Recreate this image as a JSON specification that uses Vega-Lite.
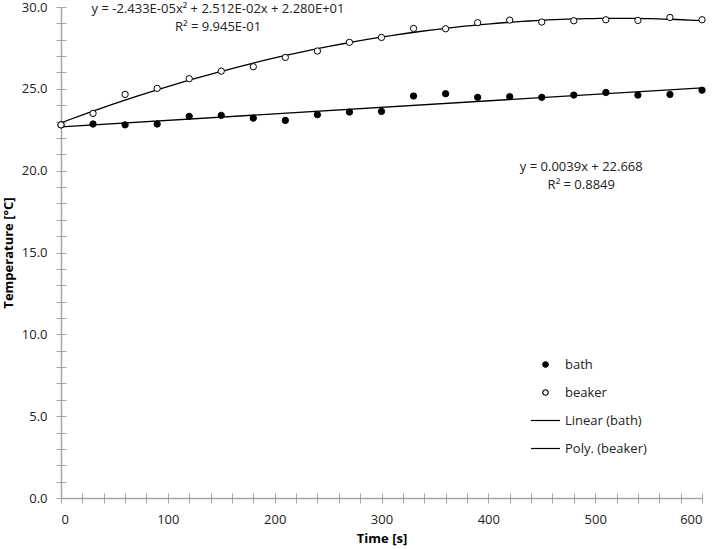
{
  "$schema": "https://vega.github.io/schema/vega-lite/v6.json",
  "autosize": {"type": "none"},
  "padding": {"left": 61, "top": 7, "right": 12, "bottom": 51},
  "width": 641,
  "height": 491,
  "config": {
    "font": "Open Sans",
    "view": {"stroke": null},
    "axis": {
      "grid": false,
      "domainColor": "#a6a6a6",
      "tickColor": "#a6a6a6",
      "domainWidth": 1.5,
      "tickWidth": 1,
      "tickSize": 5,
      "labelFont": "Open Sans",
      "labelFontSize": 13,
      "labelColor": "#222222",
      "titleFont": "Open Sans",
      "titleFontSize": 13,
      "titleFontWeight": "bold",
      "titleColor": "#000000"
    }
  },
  "datasets": {
    "temps": [
      {"time": 0, "temp": 22.80, "series": "bath"},
      {"time": 30, "temp": 22.85, "series": "bath"},
      {"time": 60, "temp": 22.80, "series": "bath"},
      {"time": 90, "temp": 22.85, "series": "bath"},
      {"time": 120, "temp": 23.32, "series": "bath"},
      {"time": 150, "temp": 23.38, "series": "bath"},
      {"time": 180, "temp": 23.21, "series": "bath"},
      {"time": 210, "temp": 23.07, "series": "bath"},
      {"time": 240, "temp": 23.42, "series": "bath"},
      {"time": 270, "temp": 23.58, "series": "bath"},
      {"time": 300, "temp": 23.62, "series": "bath"},
      {"time": 330, "temp": 24.56, "series": "bath"},
      {"time": 360, "temp": 24.70, "series": "bath"},
      {"time": 390, "temp": 24.48, "series": "bath"},
      {"time": 420, "temp": 24.52, "series": "bath"},
      {"time": 450, "temp": 24.48, "series": "bath"},
      {"time": 480, "temp": 24.62, "series": "bath"},
      {"time": 510, "temp": 24.78, "series": "bath"},
      {"time": 540, "temp": 24.62, "series": "bath"},
      {"time": 570, "temp": 24.66, "series": "bath"},
      {"time": 600, "temp": 24.92, "series": "bath"},
      {"time": 0, "temp": 22.80, "series": "beaker"},
      {"time": 30, "temp": 23.50, "series": "beaker"},
      {"time": 60, "temp": 24.66, "series": "beaker"},
      {"time": 90, "temp": 25.03, "series": "beaker"},
      {"time": 120, "temp": 25.62, "series": "beaker"},
      {"time": 150, "temp": 26.08, "series": "beaker"},
      {"time": 180, "temp": 26.35, "series": "beaker"},
      {"time": 210, "temp": 26.92, "series": "beaker"},
      {"time": 240, "temp": 27.31, "series": "beaker"},
      {"time": 270, "temp": 27.84, "series": "beaker"},
      {"time": 300, "temp": 28.14, "series": "beaker"},
      {"time": 330, "temp": 28.69, "series": "beaker"},
      {"time": 360, "temp": 28.67, "series": "beaker"},
      {"time": 390, "temp": 29.04, "series": "beaker"},
      {"time": 420, "temp": 29.20, "series": "beaker"},
      {"time": 450, "temp": 29.08, "series": "beaker"},
      {"time": 480, "temp": 29.16, "series": "beaker"},
      {"time": 510, "temp": 29.22, "series": "beaker"},
      {"time": 540, "temp": 29.18, "series": "beaker"},
      {"time": 570, "temp": 29.36, "series": "beaker"},
      {"time": 600, "temp": 29.22, "series": "beaker"}
    ],
    "notes": [
      {"tx": 147, "ty": 29.9, "label": "y = -2.433E-05x² + 2.512E-02x + 2.280E+01"},
      {"tx": 147, "ty": 28.8, "label": "R² = 9.945E-01"},
      {"tx": 487, "ty": 20.22, "label": "y = 0.0039x + 22.668"},
      {"tx": 487, "ty": 19.12, "label": "R² = 0.8849"}
    ]
  },
  "resolve": {"axis": {"x": "independent", "y": "independent"}},
  "layer": [
    {
      "data": {"name": "temps"},
      "transform": [
        {"filter": "datum.series === 'bath'"},
        {"regression": "temp", "on": "time", "method": "linear", "extent": [0, 600]}
      ],
      "mark": {"type": "line", "color": "black", "strokeWidth": 1.3},
      "encoding": {
        "x": {"field": "time", "type": "quantitative", "scale": {"domain": [0, 600], "nice": false}, "axis": null},
        "y": {"field": "temp", "type": "quantitative", "scale": {"domain": [0, 30], "nice": false}, "axis": null}
      }
    },
    {
      "data": {"name": "temps"},
      "transform": [
        {"filter": "datum.series === 'beaker'"},
        {"regression": "temp", "on": "time", "method": "poly", "order": 2, "extent": [0, 600]}
      ],
      "mark": {"type": "line", "color": "black", "strokeWidth": 1.3},
      "encoding": {
        "x": {"field": "time", "type": "quantitative", "axis": null},
        "y": {"field": "temp", "type": "quantitative", "axis": null}
      }
    },
    {
      "data": {"name": "temps"},
      "mark": {"type": "point", "filled": true, "strokeWidth": 1, "opacity": 1, "size": 40},
      "encoding": {
        "x": {
          "field": "time", "type": "quantitative",
          "axis": {
            "title": "Time [s]",
            "values": [0,20,40,60,80,100,120,140,160,180,200,220,240,260,280,300,320,340,360,380,400,420,440,460,480,500,520,540,560,580,600],
            "labelExpr": "datum.value % 100 === 0 ? datum.label : ''",
            "labelPadding": 10,
            "titlePadding": 6
          }
        },
        "y": {
          "field": "temp", "type": "quantitative",
          "axis": {
            "title": "Temperature [°C]",
            "values": [0,1,2,3,4,5,6,7,8,9,10,11,12,13,14,15,16,17,18,19,20,21,22,23,24,25,26,27,28,29,30],
            "labelExpr": "datum.value % 5 === 0 ? format(datum.value, '.1f') : ''",
            "labelPadding": 9,
            "titleX": -46
          }
        },
        "shape": {
          "field": "series", "type": "nominal",
          "scale": {"domain": ["bath", "beaker", "Linear (bath)", "Poly. (beaker)"], "range": ["circle", "circle", "M-5.3,0H5.3", "M-5.3,0H5.3"]},
          "legend": {
            "title": null,
            "orient": "none",
            "legendX": 478,
            "legendY": 351,
            "padding": 0,
            "labelFontSize": 13,
            "labelFont": "Open Sans",
            "labelColor": "#222222",
            "labelOffset": 13,
            "symbolSize": 30,
            "rowPadding": 14,
            "symbolStrokeWidth": 1.2,
            "encode": {
              "symbols": {
                "update": {
                  "stroke": {"value": "black"},
                  "strokeWidth": {"value": 1.2},
                  "opacity": {"value": 1}
                }
              }
            }
          }
        },
        "fill": {
          "field": "series", "type": "nominal",
          "scale": {"domain": ["bath", "beaker", "Linear (bath)", "Poly. (beaker)"], "range": ["black", "white", "black", "black"]}
        },
        "stroke": {
          "field": "series", "type": "nominal",
          "scale": {"domain": ["bath", "beaker", "Linear (bath)", "Poly. (beaker)"], "range": ["black", "black", "black", "black"]}
        }
      }
    },
    {
      "data": {"name": "notes"},
      "mark": {"type": "text", "font": "Open Sans", "fontSize": 13, "color": "#222222", "align": "center", "baseline": "middle"},
      "encoding": {
        "x": {
          "field": "tx", "type": "quantitative",
          "axis": {"orient": "bottom", "title": null, "domain": false, "labels": false, "tickSize": -5,
            "values": [0,20,40,60,80,100,120,140,160,180,200,220,240,260,280,300,320,340,360,380,400,420,440,460,480,500,520,540,560,580,600]}
        },
        "y": {
          "field": "ty", "type": "quantitative",
          "axis": {"orient": "left", "title": null, "domain": false, "labels": false, "tickSize": -5,
            "values": [0,1,2,3,4,5,6,7,8,9,10,11,12,13,14,15,16,17,18,19,20,21,22,23,24,25,26,27,28,29,30]}
        },
        "text": {"field": "label"}
      }
    }
  ]
}
